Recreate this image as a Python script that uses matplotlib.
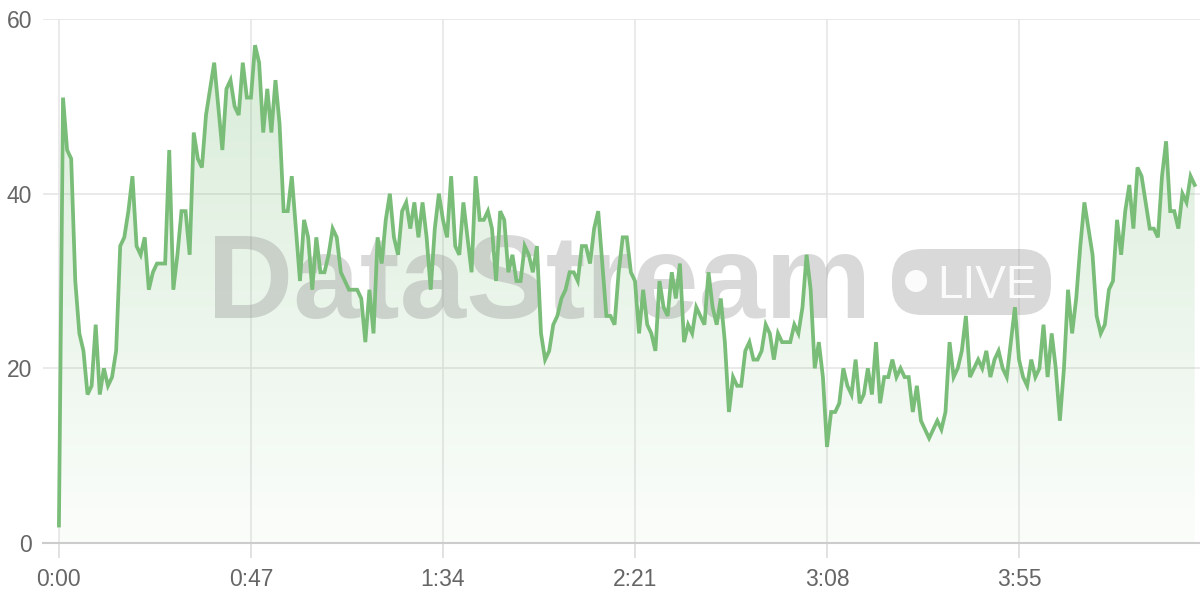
import numpy as np
import matplotlib
matplotlib.use("Agg")
import matplotlib.pyplot as plt
from matplotlib.patches import FancyBboxPatch, Circle
from matplotlib.colors import LinearSegmentedColormap

# ---- data (one value per second) ----
values = [
    2, 51, 45, 44, 30, 24, 22, 17, 18, 25,
    17, 20, 18, 19, 22, 34, 35, 38, 42, 34,
    33, 35, 29, 31, 32, 32, 32, 45, 29, 33,
    38, 38, 33, 47, 44, 43, 49, 52, 55, 50,
    45, 52, 53, 50, 49, 55, 51, 51, 57, 55,
    47, 52, 47, 53, 48, 38, 38, 42, 36, 30,
    37, 35, 29, 35, 31, 31, 33, 36, 35, 31,
    30, 29, 29, 29, 28, 23, 29, 24, 35, 32,
    37, 40, 35, 33, 38, 39, 36, 39, 35, 39,
    35, 29, 36, 40, 37, 35, 42, 34, 33, 39,
    35, 31, 42, 37, 37, 38, 36, 30, 38, 37,
    31, 33, 30, 30, 34, 33, 31, 34, 24, 21,
    22, 25, 26, 28, 29, 31, 31, 30, 34, 34,
    32, 36, 38, 32, 26, 26, 25, 31, 35, 35,
    31, 30, 24, 29, 25, 24, 22, 30, 27, 26,
    31, 28, 32, 23, 25, 24, 27, 26, 25, 31,
    27, 25, 28, 23, 15, 19, 18, 18, 22, 23,
    21, 21, 22, 25, 24, 21, 24, 23, 23, 23,
    25, 24, 27, 33, 29, 20, 23, 19, 11, 15,
    15, 16, 20, 18, 17, 21, 16, 17, 20, 17,
    23, 16, 19, 19, 21, 19, 20, 19, 19, 15,
    18, 14, 13, 12, 13, 14, 13, 15, 23, 19,
    20, 22, 26, 19, 20, 21, 20, 22, 19, 21,
    22, 20, 19, 23, 27, 21, 19, 18, 21, 19,
    20, 25, 19, 24, 20, 14, 20, 29, 24, 28,
    34, 39, 36, 33, 26, 24, 25, 29, 30, 37,
    33, 38, 41, 36, 43, 42, 39, 36, 36, 35,
    42, 46, 38, 38, 36, 40, 39, 42, 41,
]
x_tick_seconds = [0, 47, 94, 141, 188, 235]
x_tick_labels = ["0:00", "0:47", "1:34", "2:21", "3:08", "3:55"]
y_ticks = [0, 20, 40, 60]
watermark = "DataStream"
badge_text = "LIVE"

seconds = np.arange(len(values))

LINE = "#79bd79"
GRID = "#e6e6e6"
LABEL = "#666666"

plt.rcParams['font.family'] = ['Liberation Sans', 'DejaVu Sans']

fig = plt.figure(figsize=(12, 6), dpi=100)
ax = fig.add_axes([43 / 1200, (600 - 543) / 600, (1200 - 43) / 1200, (543 - 19) / 600])

# gradient area fill
poly = ax.fill_between(seconds, values, 0, color="none", lw=0)
cmap = LinearSegmentedColormap.from_list(
    "g", [(0.0, (0.47, 0.74, 0.47, 0.03)), (1.0, (0.47, 0.74, 0.47, 0.28))])
grad = np.linspace(0, 1, 256).reshape(-1, 1)
im = ax.imshow(grad, cmap=cmap, aspect="auto", origin="lower",
               extent=[seconds[0], seconds[-1], 0, max(values)], zorder=1,
               interpolation="bilinear")
path = poly.get_paths()[0]
im.set_clip_path(path, transform=ax.transData)
ax.set_xlim(-3.9, 279.3)
ax.set_ylim(0, 60)

ax.plot(seconds, values, color=LINE, lw=2.7, zorder=4, solid_joinstyle="miter")

# watermark
px = fig.dpi_scale_trans
ax.text(2.07, (600 - 318) / 100, watermark, transform=px, fontsize=86,
        fontweight="bold", color="#8a8a8a", alpha=0.32, ha="left",
        va="baseline", zorder=3, clip_on=False)
badge = FancyBboxPatch((8.92, (600 - 315) / 100), 1.59, 0.66,
                       boxstyle="round,pad=0,rounding_size=0.3",
                       transform=px, facecolor="#8a8a8a", alpha=0.32,
                       edgecolor="none", zorder=3, clip_on=False)
ax.add_patch(badge)
ax.add_patch(Circle((9.16, (600 - 281) / 100), 0.11, transform=px,
                    facecolor="white", alpha=0.9, edgecolor="none",
                    zorder=3.5, clip_on=False))
ax.text(9.37, (600 - 281) / 100, badge_text, transform=px, fontsize=33,
        color="white", alpha=0.9, ha="left", va="center_baseline",
        zorder=3.5, clip_on=False)

# axes styling
ax.set_xticks(x_tick_seconds)
ax.set_xticklabels(x_tick_labels)
ax.set_yticks(y_ticks)
ax.set_yticklabels([str(v) for v in y_ticks])
ax.grid(True, color=GRID, lw=1.2, zorder=0)
ax.set_axisbelow(True)
for s in ["top", "right", "left"]:
    ax.spines[s].set_visible(False)
ax.spines["bottom"].set_color("#cccccc")
ax.spines["bottom"].set_linewidth(1.5)
ax.tick_params(axis="x", length=11, width=1.2, color="#dddddd",
               labelsize=16.5, labelcolor=LABEL, pad=7)
ax.tick_params(axis="y", length=0, labelsize=16.5, labelcolor=LABEL, pad=8)

fig.savefig("out.png", dpi=100, facecolor="white")
